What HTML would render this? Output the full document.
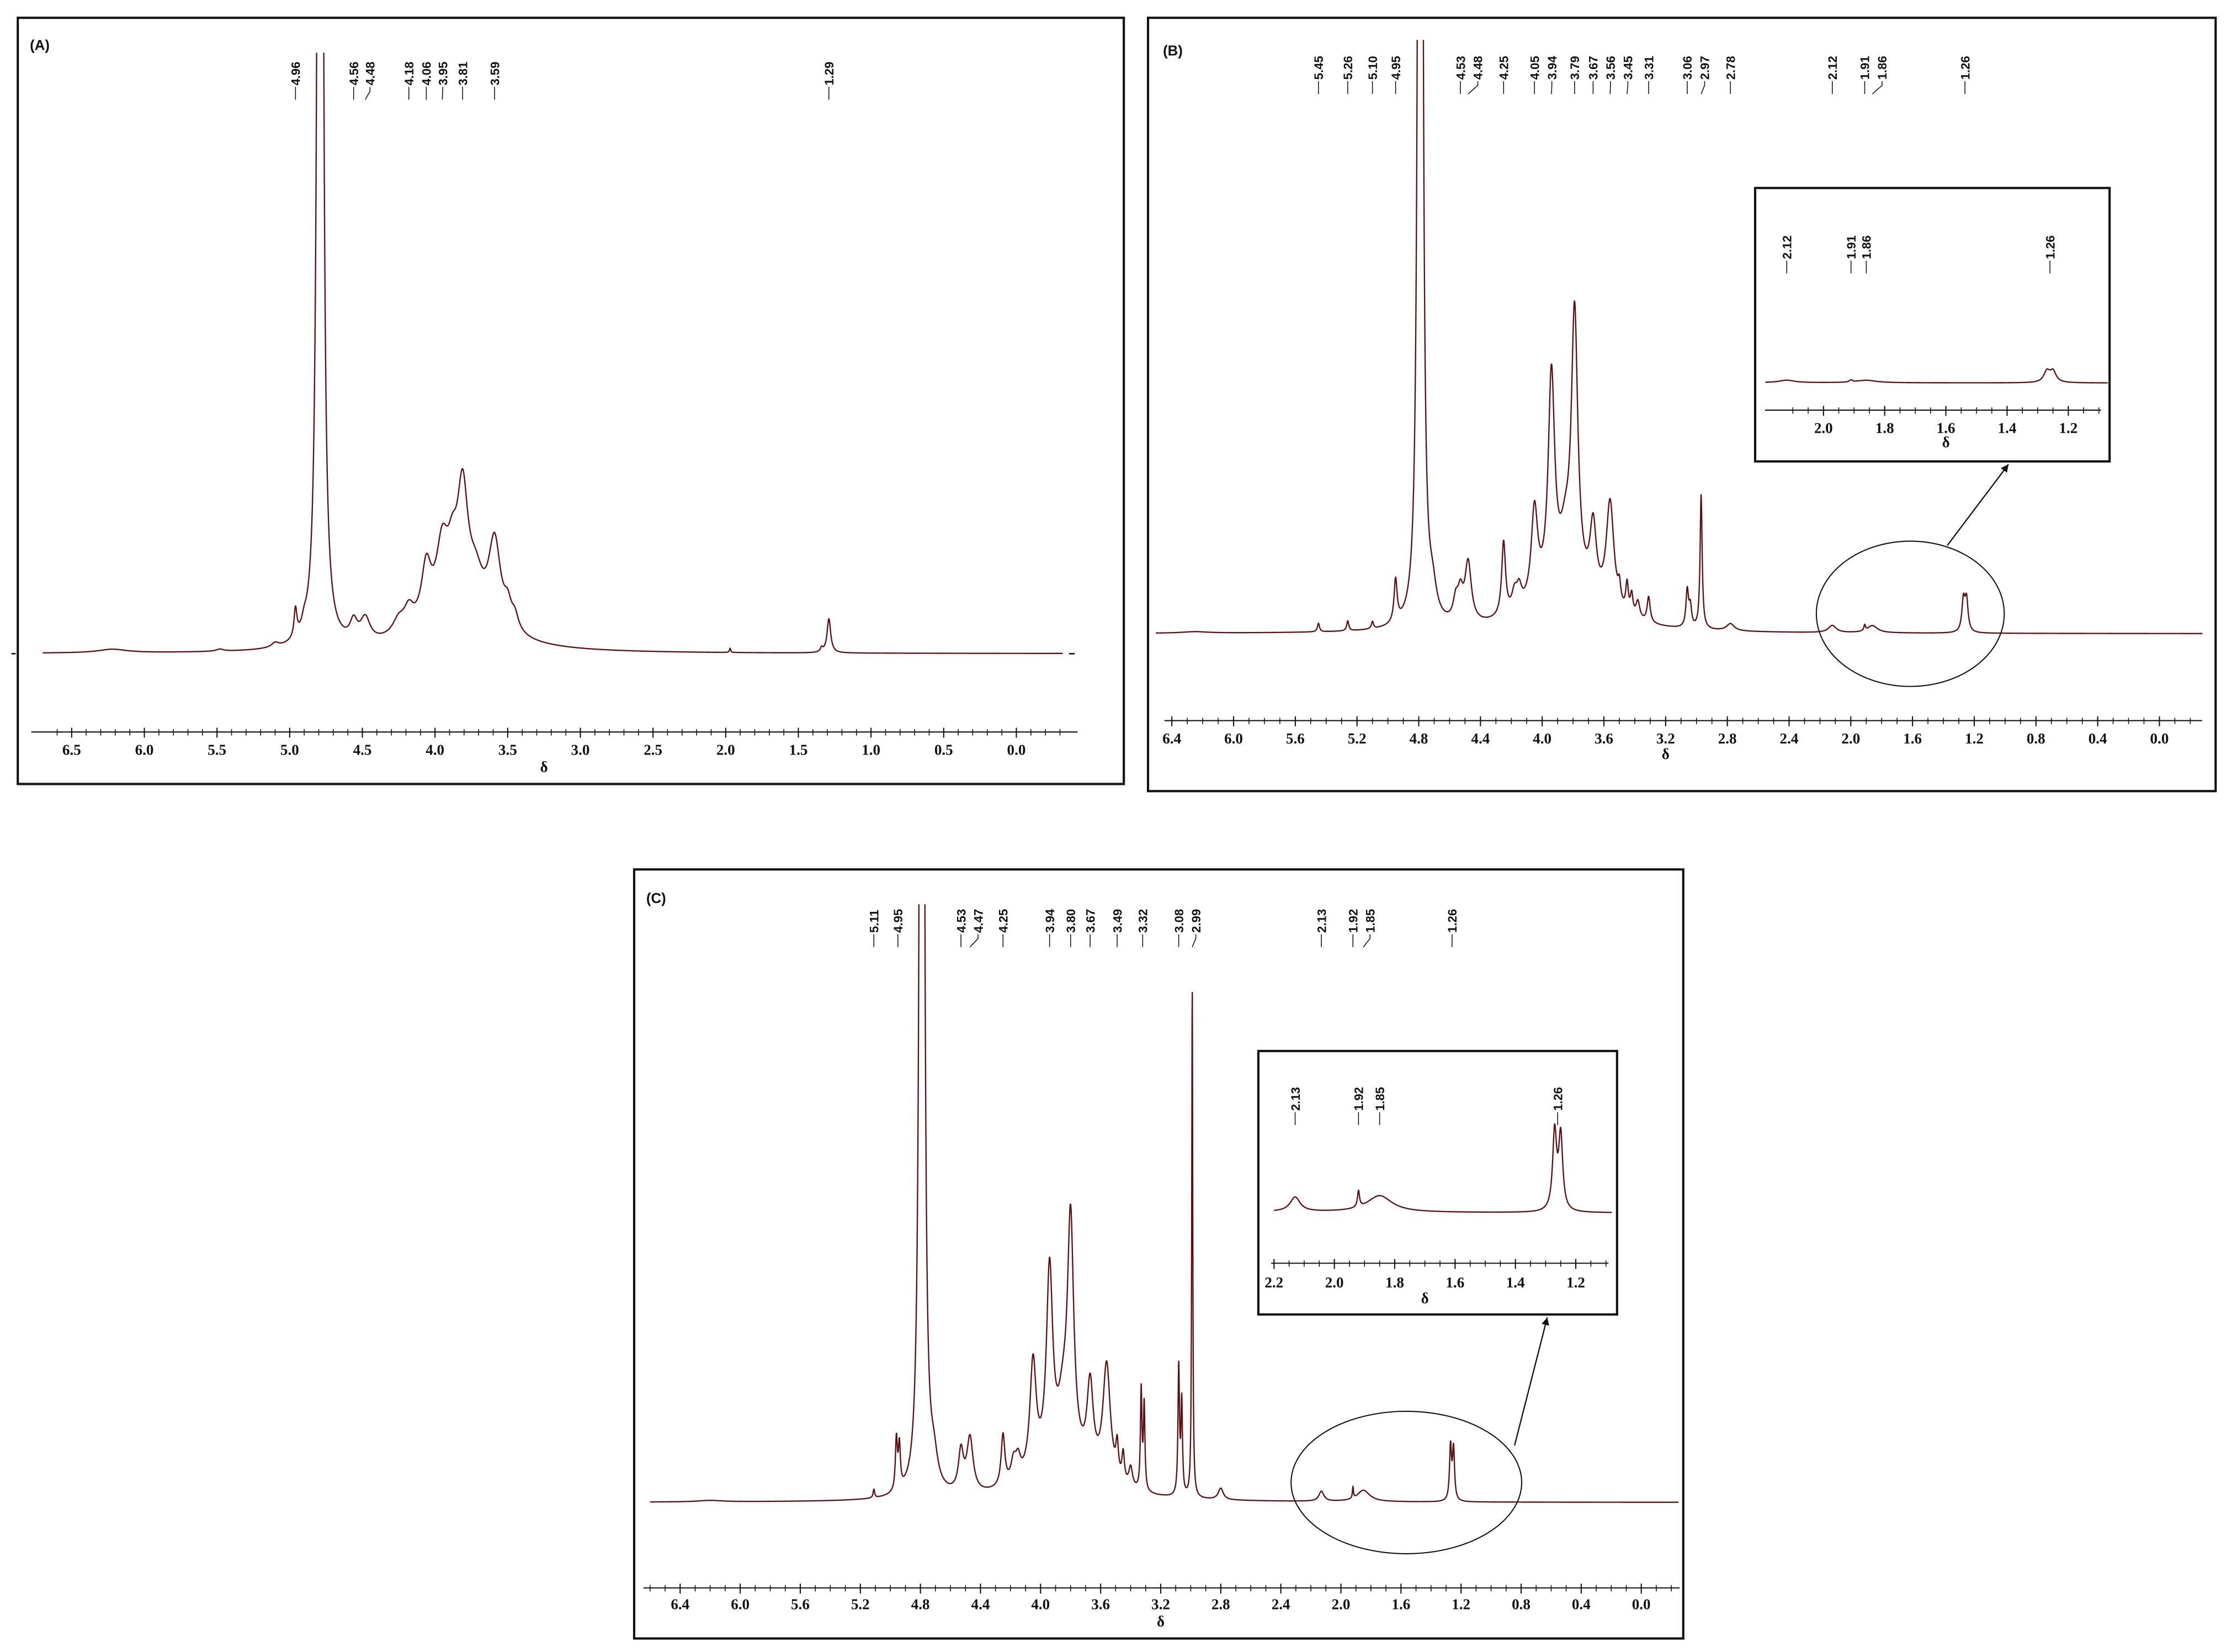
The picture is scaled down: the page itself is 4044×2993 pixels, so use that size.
<!DOCTYPE html>
<html><head><meta charset="utf-8"><title>1H NMR spectra A, B, C</title>
<style>
html,body{margin:0;padding:0;background:#fff;}
svg{display:block;}
.tl{font-family:"Liberation Serif",serif;font-weight:bold;font-size:10.5px;fill:#111;}
.pl{font-family:"Liberation Sans",sans-serif;font-weight:bold;font-size:8.6px;fill:#111;}
.pn{font-family:"Liberation Sans",sans-serif;font-weight:bold;font-size:10px;fill:#111;}
</style></head>
<body>
<svg id="fig" width="4044" height="2993" viewBox="0 0 1568 1160" preserveAspectRatio="none" xmlns="http://www.w3.org/2000/svg">
<defs>
<clipPath id="clipA"><rect x="20" y="37" width="740" height="470"/></clipPath>
<clipPath id="clipB"><rect x="812" y="28" width="740" height="470"/></clipPath>
<clipPath id="clipC"><rect x="450" y="635" width="730" height="470"/></clipPath>
<marker id="arr" markerWidth="8" markerHeight="8" refX="6" refY="3" orient="auto"><path d="M0,0 L6,3 L0,6 z" fill="#111"/></marker>
</defs>
<rect x="12.5" y="12.5" width="777" height="538" fill="none" stroke="#111" stroke-width="1.6"/>
<rect x="806.5" y="12.5" width="750" height="543" fill="none" stroke="#111" stroke-width="1.6"/>
<rect x="445.5" y="610.5" width="737" height="540" fill="none" stroke="#111" stroke-width="1.6"/>
<text class="pn" x="21" y="35">(A)</text>
<text class="pn" x="817" y="39">(B)</text>
<text class="pn" x="454" y="634">(C)</text>
<rect x="1233" y="132" width="249" height="192" fill="#fff" stroke="#111" stroke-width="1.6"/>
<rect x="884" y="738" width="252" height="185" fill="#fff" stroke="#111" stroke-width="1.6"/>
<ellipse cx="1342" cy="431" rx="66" ry="51" fill="none" stroke="#111" stroke-width="0.8"/>
<ellipse cx="988" cy="1041" rx="81" ry="50" fill="none" stroke="#111" stroke-width="0.8"/>
<line x1="1368" y1="383" x2="1411" y2="326" stroke="#111" stroke-width="0.9" marker-end="url(#arr)"/>
<line x1="1064" y1="1015" x2="1087" y2="925" stroke="#111" stroke-width="0.9" marker-end="url(#arr)"/>
<g id="layer"></g>
</svg>
<script>
// ---- Panel A data (ppm, intensity, half-width) ----
const aCenters=[6.22,5.48,5.10,4.96,4.90,4.79,4.56,4.48,4.25,4.18,4.06,3.95,3.88,3.81,3.72,3.59,3.50,3.45,3.85,1.97,1.34,1.29];
const aHeights=[2.5,1.5,3,20,6,3000,13,16,10,14,38,46,28,82,24,60,14,10,24,3,3,24];
const aWidths=[0.12,0.03,0.03,0.012,0.02,0.01,0.03,0.04,0.05,0.04,0.04,0.05,0.04,0.045,0.06,0.05,0.03,0.03,0.3,0.005,0.01,0.015];
const aTicks=[6.5,6.0,5.5,5.0,4.5,4.0,3.5,3.0,2.5,2.0,1.5,1.0,0.5,0.0];
const aTickLabels=["6.5","6.0","5.5","5.0","4.5","4.0","3.5","3.0","2.5","2.0","1.5","1.0","0.5","0.0"];
const aPeakLabels=[4.96,4.56,4.48,4.18,4.06,3.95,3.81,3.59,1.29];
// ---- Panel B data ----
const bCenters=[6.25,5.45,5.26,5.10,4.95,4.79,4.71,4.56,4.53,4.48,4.25,4.18,4.15,4.05,3.94,3.85,3.79,3.67,3.56,3.50,3.45,3.42,3.38,3.31,3.06,3.04,2.97,2.78,2.12,1.91,1.86,1.27,1.25,3.85];
const bHeights=[1,6,7,5,30,3000,18,14,18,42,52,12,14,64,150,28,190,50,76,12,20,14,12,18,26,14,94,5,5,4,5,22,22,28];
const bWidths=[0.1,0.008,0.008,0.008,0.012,0.008,0.03,0.02,0.02,0.025,0.015,0.02,0.02,0.025,0.025,0.04,0.025,0.025,0.03,0.01,0.01,0.01,0.015,0.012,0.01,0.01,0.008,0.03,0.03,0.006,0.04,0.012,0.012,0.25];
const bTicks=[6.4,6.0,5.6,5.2,4.8,4.4,4.0,3.6,3.2,2.8,2.4,2.0,1.6,1.2,0.8,0.4,0.0];
const bTickLabels=["6.4","6.0","5.6","5.2","4.8","4.4","4.0","3.6","3.2","2.8","2.4","2.0","1.6","1.2","0.8","0.4","0.0"];
const bPeakLabels=[5.45,5.26,5.10,4.95,4.53,4.48,4.25,4.05,3.94,3.79,3.67,3.56,3.45,3.31,3.06,2.97,2.78,2.12,1.91,1.86,1.26];
const bInsetTicks=[2.0,1.8,1.6,1.4,1.2];
const bInsetTickLabels=["2.0","1.8","1.6","1.4","1.2"];
const bInsetLabels=[2.12,1.91,1.86,1.26];
// ---- Panel C data ----
const cCenters=[6.2,5.11,4.96,4.94,4.79,4.71,4.53,4.47,4.25,4.18,4.15,4.05,3.94,3.85,3.80,3.67,3.56,3.49,3.45,3.40,3.33,3.31,3.08,3.06,2.99,2.80,2.13,1.92,1.85,1.27,1.25,3.85];
const cHeights=[1,6,36,30,3000,18,28,38,36,14,14,78,135,32,165,60,82,22,20,14,70,60,90,65,360,8,7,8,8,38,36,24];
const cWidths=[0.1,0.006,0.008,0.008,0.008,0.03,0.02,0.025,0.015,0.02,0.02,0.025,0.025,0.04,0.025,0.025,0.03,0.01,0.01,0.015,0.006,0.006,0.006,0.006,0.004,0.02,0.02,0.004,0.05,0.008,0.008,0.25];
const cTicks=[6.4,6.0,5.6,5.2,4.8,4.4,4.0,3.6,3.2,2.8,2.4,2.0,1.6,1.2,0.8,0.4,0.0];
const cTickLabels=["6.4","6.0","5.6","5.2","4.8","4.4","4.0","3.6","3.2","2.8","2.4","2.0","1.6","1.2","0.8","0.4","0.0"];
const cPeakLabels=[5.11,4.95,4.53,4.47,4.25,3.94,3.80,3.67,3.49,3.32,3.08,2.99,2.13,1.92,1.85,1.26];
const cInsetTicks=[2.2,2.0,1.8,1.6,1.4,1.2];
const cInsetTickLabels=["2.2","2.0","1.8","1.6","1.4","1.2"];
const cInsetLabels=[2.13,1.92,1.85,1.26];

const NS="http://www.w3.org/2000/svg";
const layer=document.getElementById('layer');
function mk(tag,attrs,parent){const e=document.createElementNS(NS,tag);for(const k in attrs)e.setAttribute(k,attrs[k]);(parent||layer).appendChild(e);return e;}
function specVal(p,C,H,Wd){let s=0;for(let i=0;i<C.length;i++){const u=(p-C[i])/Wd[i];s+=H[i]/(1+u*u);}return s;}
function specPath(C,H,Wd,pHi,pLo,xs,ys){let d='';let first=true;for(let p=pHi;p>=pLo;p-=0.0015){const x=xs(p),y=ys(specVal(p,C,H,Wd));d+=(first?'M':'L')+x.toFixed(2)+','+y.toFixed(2);first=false;}return d;}
function drawSpectrum(name,C,H,Wd,pHi,pLo,xs,ys,clip){
  const el=mk('path',{d:specPath(C,H,Wd,pHi,pLo,xs,ys),fill:'none',stroke:'#5b0f12','stroke-width':'0.9','stroke-linejoin':'round'});
  if(clip)el.setAttribute('clip-path','url(#'+clip+')');
  
  
}
function drawAxis(prefix,ticks,labels,xs,yAxis,x0,x1,minorStep,pHi,pLo,yLab,yDelta){
  const ax=mk('line',{x1:x0,y1:yAxis,x2:x1,y2:yAxis,stroke:'#111','stroke-width':'0.8'});
  
  
  for(let p=Math.floor(pHi*10)/10;p>=pLo-1e-6;p-=minorStep){
    const t=mk('line',{x1:xs(p),y1:yAxis-2,x2:xs(p),y2:yAxis+2.5,stroke:'#111','stroke-width':'0.6'});
    
    
  }
  ticks.forEach((v,i)=>{
    const t=mk('line',{x1:xs(v),y1:yAxis-3,x2:xs(v),y2:yAxis+4,stroke:'#111','stroke-width':'0.8'});
    
    
    const tx=mk('text',{x:xs(v),y:yLab,'text-anchor':'middle',class:'tl'});
    tx.textContent=labels[i];
    
    
  });
  const dl=mk('text',{x:(xs(ticks[0])+xs(ticks[ticks.length-1]))/2,y:yDelta,'text-anchor':'middle',class:'tl'});
  dl.textContent='δ';
  
  
}
function drawPeakLabels(prefix,vals,xs,yBottom,minGap){
  let xsList=vals.map(v=>xs(v));
  for(let i=1;i<xsList.length;i++){if(xsList[i]-xsList[i-1]<minGap)xsList[i]=xsList[i-1]+minGap;}
  vals.forEach((v,i)=>{
    const lx=xsList[i];
    const ln=mk('polyline',{points:lx+','+(yBottom+1)+' '+lx+','+(yBottom+4)+' '+xs(v)+','+(yBottom+10),fill:'none',stroke:'#111','stroke-width':'0.6'});
    
    
    const t=mk('text',{x:0,y:0,class:'pl',transform:'translate('+(lx+3.2)+','+yBottom+') rotate(-90)'});
    t.textContent=v.toFixed(2);
    
    
  });
}

// Panel A
const xA=p=>714-102.1*p, yA=v=>459-v;
drawSpectrum('spectrum-a',aCenters,aHeights,aWidths,6.7,-0.32,xA,yA,'clipA');
drawAxis('panel-a',aTicks,aTickLabels,xA,514,22,757,0.1,6.6,-0.3,530,542);
drawPeakLabels('panel-a',aPeakLabels,xA,60,11.5);
mk('line',{x1:8,y1:459,x2:11,y2:459,stroke:'#111','stroke-width':'1'});
mk('line',{x1:751,y1:459,x2:755,y2:459,stroke:'#111','stroke-width':'1'});

// Panel B
const xB=p=>1517-108.4*p, yB=v=>445-v;
drawSpectrum('spectrum-b',bCenters,bHeights,bWidths,6.6,-0.28,xB,yB,'clipB');
drawAxis('panel-b',bTicks,bTickLabels,xB,506,818,1547,0.1,6.4,-0.28,522,533);
drawPeakLabels('panel-b',bPeakLabels,xB,56,12.2);
// Inset B
const xBi=p=>1281+(2.0-p)*215, yBi=v=>269-v*0.35;
drawSpectrum('inset-b-spectrum',bCenters,bHeights,bWidths,2.19,1.07,xBi,yBi,null);
drawAxis('inset-b',bInsetTicks,bInsetTickLabels,xBi,288,1240,1476,0.05,2.15,1.07,304,314);
drawPeakLabels('inset-b',bInsetLabels,xBi,182,6);

// Panel C
const xC=p=>1153-105.5*p, yC=v=>1055-v;
drawSpectrum('spectrum-c',cCenters,cHeights,cWidths,6.6,-0.25,xC,yC,'clipC');
drawAxis('panel-c',cTicks,cTickLabels,xC,1115,452,1180,0.1,6.6,-0.25,1130,1142);
drawPeakLabels('panel-c',cPeakLabels,xC,655,12);
// Inset C
const xCi=p=>895+(2.2-p)*212, yCi=v=>852-v*1.45;
drawSpectrum('inset-c-spectrum',cCenters,cHeights,cWidths,2.2,1.08,xCi,yCi,null);
drawAxis('inset-c',cInsetTicks,cInsetTickLabels,xCi,887,893,1130,0.05,2.2,1.08,904,915);
drawPeakLabels('inset-c',cInsetLabels,xCi,780,6);
</script>
</body></html>
